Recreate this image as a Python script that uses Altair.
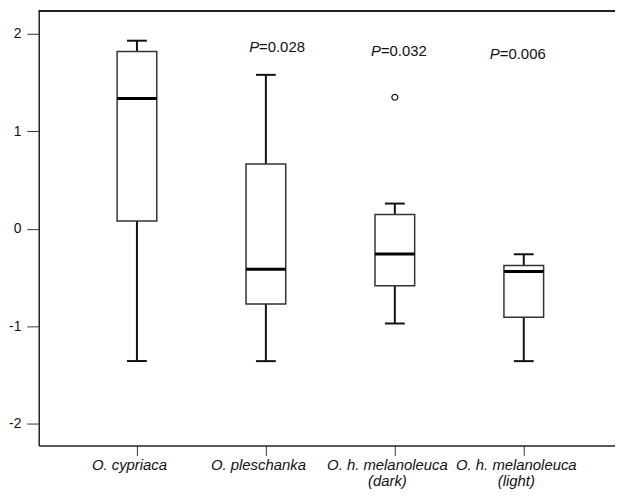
import altair as alt
import pandas as pd

categories = ["O. cypriaca", "O. pleschanka", "O. h. melanoleuca", "O. h. melanoleuca"]
subtitles = ["", "", "(dark)", "(light)"]
positions = [1, 2, 3, 4]
whisker_low = [-1.355, -1.356, -0.97, -1.356]
q1 = [0.08, -0.769, -0.583, -0.905]
median = [1.337, -0.413, -0.257, -0.437]
q3 = [1.82, 0.665, 0.147, -0.376]
whisker_high = [1.93, 1.58, 0.26, -0.26]

outlier_pos = [3]
outlier_val = [1.35]

p_pos = [1.947, 2.892, 3.814]
p_y = [1.87, 1.825, 1.79]
p_text = ["=0.028", "=0.032", "=0.006"]

y_ticks = [-2, -1, 0, 1, 2]
y_domain = [-2.22, 2.235]
x_domain = [0.277, 4.669]

FONT = "Liberation Sans"

boxes = pd.DataFrame({
    "pos": positions, "lo": whisker_low, "q1": q1, "med": median,
    "q3": q3, "hi": whisker_high,
})
outliers = pd.DataFrame({"pos": outlier_pos, "val": outlier_val})
ptab = pd.DataFrame({"pos": p_pos, "y": p_y, "t": p_text})

label_arrays = []
for c, s in zip(categories, subtitles):
    if s:
        label_arrays.append("['%s','%s']" % (c, s))
    else:
        label_arrays.append("['%s']" % c)
label_expr = "[" + ",".join(label_arrays) + "][datum.value - 1]"

xs = alt.Scale(domain=x_domain, nice=False, zero=False)
ys = alt.Scale(domain=y_domain, nice=False, zero=False)

x_axis = alt.Axis(values=positions, labelExpr=label_expr, title=None, grid=False,
                  tickSize=10, tickColor="#333", domainColor="#222", domainWidth=1.5,
                  labelFont=FONT, labelFontStyle="italic", labelFontSize=15,
                  labelColor="#111", labelPadding=2, labelLineHeight=16,
                  labelBaseline="top", labelOffset=-8)
y_axis = alt.Axis(values=y_ticks, labelExpr="'' + datum.value", title=None, grid=False,
                  tickSize=12, tickColor="#333", domainColor="#222", domainWidth=1.5,
                  labelFont=FONT, labelFontSize=14, labelColor="#111",
                  labelPadding=6)

base = alt.Chart(boxes)

whisk_lo = base.mark_rule(color="#111", strokeWidth=2).encode(
    x=alt.X("pos:Q", scale=xs, axis=x_axis),
    y=alt.Y("lo:Q", scale=ys, axis=y_axis),
    y2="q1:Q",
)
whisk_hi = base.mark_rule(color="#111", strokeWidth=2).encode(
    x=alt.X("pos:Q", scale=xs), y=alt.Y("q3:Q", scale=ys), y2="hi:Q",
)
box = base.mark_bar(size=40, fill="white", stroke="#333", strokeWidth=1.5).encode(
    x=alt.X("pos:Q", scale=xs), y=alt.Y("q1:Q", scale=ys), y2="q3:Q",
)
med = base.mark_tick(orient="horizontal", size=40, thickness=3, color="#000",
                     opacity=1).encode(
    x=alt.X("pos:Q", scale=xs), y=alt.Y("med:Q", scale=ys),
)
cap_lo = base.mark_tick(orient="horizontal", size=20, thickness=2, color="#111",
                        opacity=1).encode(
    x=alt.X("pos:Q", scale=xs), y=alt.Y("lo:Q", scale=ys),
)
cap_hi = base.mark_tick(orient="horizontal", size=20, thickness=2, color="#111",
                        opacity=1).encode(
    x=alt.X("pos:Q", scale=xs), y=alt.Y("hi:Q", scale=ys),
)
outl = alt.Chart(outliers).mark_point(shape="circle", size=36, filled=False,
                                       color="#111", strokeWidth=1.2, opacity=1).encode(
    x=alt.X("pos:Q", scale=xs), y=alt.Y("val:Q", scale=ys),
)
p_italic = alt.Chart(ptab).mark_text(text="P", font=FONT, fontStyle="italic",
                                      fontSize=15, align="right", baseline="middle",
                                      color="#111").encode(
    x=alt.X("pos:Q", scale=xs), y=alt.Y("y:Q", scale=ys),
)
p_rest = alt.Chart(ptab).mark_text(font=FONT, fontSize=15, align="left",
                                    baseline="middle", color="#111").encode(
    x=alt.X("pos:Q", scale=xs), y=alt.Y("y:Q", scale=ys), text="t:N",
)
top_line = alt.Chart(boxes).mark_rule(color="#222", strokeWidth=1.5).encode(
    x=alt.value(0), x2=alt.value(581), y=alt.value(0),
)

chart = alt.layer(
    whisk_lo, whisk_hi, box, med, cap_lo, cap_hi, outl, p_italic, p_rest, top_line
).properties(
    width=581, height=438,
    autosize=alt.AutoSizeParams(type="none"),
    padding={"left": 31, "top": 1, "right": 0, "bottom": 44},
).configure_view(stroke=None)

chart.save("out.html", embed_options={"renderer": "svg", "actions": False})
